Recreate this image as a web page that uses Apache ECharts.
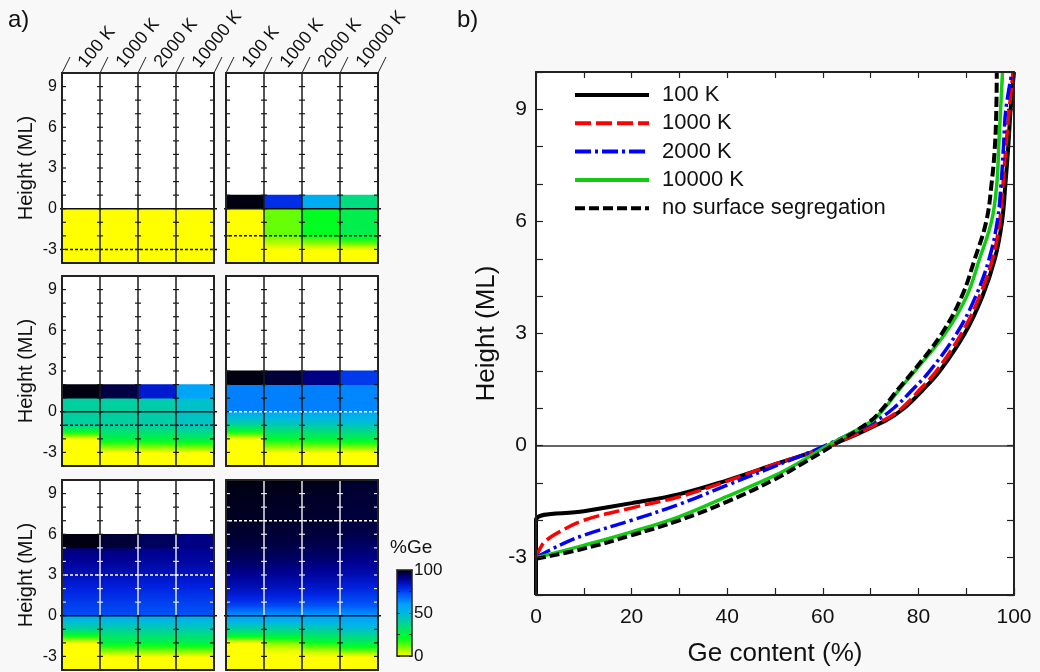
<!DOCTYPE html>
<html>
<head>
<meta charset="utf-8">
<script src="https://cdn.jsdelivr.net/npm/echarts@6/dist/echarts.min.js"></script>
<style>
html, body { margin: 0; background: #f8f8f8; }
#main { width: 1040px; height: 672px; }
</style>
</head>
<body>
<div id="main"></div>
<script>
var FONT = '"Liberation Sans", Arial, sans-serif';
var temps = ['100 K', '1000 K', '2000 K', '10000 K'];

// panel b: [Ge content %, height ML]
var curve100 = [[0,-4],[0,-2],[10,-1.76],[20,-1.54],[30,-1.3],[40,-0.93],[50,-0.5],[61.5,0],[73,0.66],[77,1],[81,1.5],[84.5,2],[89.7,3],[93.4,4],[96,5],[97.5,6],[98.2,7],[98.8,8],[99.3,9],[100,10]];
var curve1000 = [[0,-3],[1,-2.72],[2.1,-2.54],[4.9,-2.31],[10,-2.0],[20,-1.67],[30,-1.37],[40,-0.95],[50,-0.5],[61.5,0],[72.5,0.66],[76.5,1],[80.3,1.5],[83.8,2],[89,3],[92.8,4],[95.5,5],[97,6],[97.7,7],[98.3,8],[99,9],[99.8,10]];
var curve2000 = [[0,-3],[4.9,-2.67],[10,-2.4],[20,-2.0],[30,-1.57],[40,-1.06],[50,-0.55],[60.5,0],[71,0.66],[74.8,1],[78.8,1.5],[82.4,2],[88,3],[92,4],[94.8,5],[96.5,6],[97.3,7],[97.8,8],[98.3,9],[99.6,10]];
var curve10000 = [[0,-3],[10,-2.67],[20,-2.31],[30,-1.9],[40,-1.36],[50,-0.8],[55,-0.46],[61,0],[70.3,0.66],[72.9,1],[76,1.5],[79.3,2],[85.6,3],[90.1,4],[92.8,5],[95.3,6],[96.4,7],[96.8,8],[97.2,9],[97.6,10]];
var curveNoSeg = [[0,-3.03],[10,-2.76],[20,-2.4],[30,-2.0],[40,-1.5],[50,-0.9],[55.5,-0.5],[62,0],[70,0.66],[72.6,1],[75.7,1.5],[79,2],[84.9,3],[89.1,4],[91.8,5],[94.2,6],[95.3,7],[96,8],[96.3,9],[96.4,10]];

// panel a: deposited ML per sub-plot and [height, %Ge] profile per column
var deposited = [0, 1, 2, 3, 6, 10];
var prof0 = [
  [[-4,0],[0,0]], [[-4,0],[0,0]], [[-4,0],[0,0]], [[-4,0],[0,0]]
];
var prof1 = [
  [[-4,0],[0,0],[0,100],[1,100]],
  [[-4,0],[-3,0],[-2,12],[0,12],[0,78],[1,78]],
  [[-4,0],[-3,0],[-2,20],[0,20],[0,55],[1,55]],
  [[-4,0],[-3,0],[-2,27],[0,27],[0,35],[1,35]]
];
var prof2 = [
  [[-4,0],[-2,0],[-1,40],[1,40],[1,100],[2,100]],
  [[-4,0],[-3,0],[-2,25],[-1,40],[1,40],[1,96],[2,96]],
  [[-4,0],[-3,0],[-2,25],[-1,41],[1,42],[1,82],[2,82]],
  [[-4,0],[-3,0],[-2,28],[-1,45],[1,47],[1,58],[2,58]]
];
var prof3 = [
  [[-4,0],[-2,0],[-1,38],[0,58],[0,65],[2,65],[2,100],[3,100]],
  [[-4,0],[-3,0],[-2,22],[-1,42],[0,58],[0,65],[2,65],[2,97],[3,97]],
  [[-4,0],[-3,0],[-2,24],[-1,43],[0,58],[0,65],[2,65],[2,91],[3,91]],
  [[-4,0],[-3,0],[-2,26],[-1,45],[0,58],[0,64],[2,64],[2,76],[3,76]]
];
var prof6 = [
  [[-4,0],[-2,0],[-1,38],[0,56],[0,73],[1,76],[2,80],[3,85],[4,89],[5,92],[5,100],[6,100]],
  [[-4,0],[-3,0],[-2,24],[-1,40],[0,56],[0,73],[1,76],[2,80],[3,85],[4,89],[5,92],[5,97],[6,97]],
  [[-4,0],[-3,0],[-2,25],[-1,41],[0,56],[0,72],[1,75],[2,79],[3,84],[4,88],[5,91],[5,94],[6,94]],
  [[-4,0],[-3,0],[-2,26],[-1,42],[0,56],[0,72],[1,75],[2,79],[3,84],[4,88],[5,90],[5,91],[6,91]]
];
// 10 ML: same profiles as panel b
var prof10 = [curve100, curve1000, curve2000, curve10000].map(function (c) {
  return c.map(function (p) { return [p[1], p[0]]; });
});
var profiles = [prof0, prof1, prof2, prof3, prof6, prof10];

var cmColors = ['#ffff00','#80ff00','#00ff20','#00e860','#00d0a0','#00b8e0','#00a0ff','#0060ff','#0020e0','#000090','#000010'];

// sub-plot looks
var zeroLine = [true, true, true, false, true, true];
var dashColor = ['#111', '#111', '#111', '#fff', '#fff', '#fff'];
var paleLines = [false, false, false, false, true, true];
var gridLeft = [62, 226, 62, 226, 62, 226];
var gridTop = [73, 73, 276, 276, 480, 480];

function hex(c) {
  return [parseInt(c.substr(1,2),16), parseInt(c.substr(3,2),16), parseInt(c.substr(5,2),16)];
}
function geColor(v) {
  v = Math.max(0, Math.min(100, v));
  var t = v / 100 * (cmColors.length - 1);
  var i = Math.min(Math.floor(t), cmColors.length - 2), f = t - i;
  var a = hex(cmColors[i]), b = hex(cmColors[i + 1]);
  return 'rgb(' + Math.round(a[0] + (b[0]-a[0])*f) + ',' + Math.round(a[1] + (b[1]-a[1])*f) + ',' + Math.round(a[2] + (b[2]-a[2])*f) + ')';
}

function makeRender(k) {
  var profs = profiles[k], d = deposited[k], pale = paleLines[k], header = k < 2;
  return function (params, api) {
    var col = params.dataIndex;
    var xL = api.coord([col, 0])[0], xR = api.coord([col + 1, 0])[0];
    function y(h) { return api.coord([0, h])[1]; }
    var ch = [];
    var p = profs[col];
    if (p[0][0] > -4) p = [[-4, p[0][1]]].concat(p);
    for (var i = 0; i + 1 < p.length; i++) {
      var h0 = p[i][0], h1 = p[i+1][0], v0 = p[i][1], v1 = p[i+1][1];
      if (h1 <= h0) continue;
      var fill;
      if (v0 === v1) fill = geColor(v0);
      else {
        var stops = [];
        for (var s = 0; s <= 8; s++) stops.push({ offset: s / 8, color: geColor(v0 + (v1 - v0) * s / 8) });
        fill = new echarts.graphic.LinearGradient(0, 1, 0, 0, stops);
      }
      ch.push({ type: 'rect', shape: { x: xL, y: y(h1) - 0.4, width: xR - xL, height: y(h0) - y(h1) + 0.8 }, style: { fill: fill } });
    }
    var dark = '#1a1a1a', light = '#e6e6e6';
    function lc(h) { return (pale && h > 0 && h < d) ? light : dark; }
    function seg(x1, y1, x2, y2, color, w, dash) {
      ch.push({ type: 'line', shape: { x1: x1, y1: y1, x2: x2, y2: y2 }, style: { stroke: color, lineWidth: w || 1.5, lineDash: dash || null } });
    }
    var h;
    if (col > 0) {
      if (pale) {
        seg(xL, y(-4), xL, y(0), dark);
        seg(xL, y(0), xL, y(d), light);
        if (d < 10) seg(xL, y(d), xL, y(10), dark);
      } else {
        seg(xL, y(-4), xL, y(10), dark);
      }
      for (h = -3; h <= 9; h++) seg(xL - 3, y(h), xL + 3, y(h), lc(h), 1.2);
    } else {
      for (h = -3; h <= 9; h++) seg(xL, y(h), xL + 4, y(h), lc(h), 1.2);
    }
    if (col === 3) {
      for (h = -3; h <= 9; h++) seg(xR - 4, y(h), xR, y(h), lc(h), 1.2);
      var xa = api.coord([0, 0])[0] - 2, xb = xR + 3;
      if (zeroLine[k]) seg(xa, y(0), xb, y(0), '#111', 1.5);
      seg(xa, y(d - 3), xb, y(d - 3), dashColor[k], 1.5, [3, 2]);
    }
    if (header) {
      var yt = y(10);
      seg(xL, yt, xL + 8, yt - 16, '#222', 1);
      if (col === 3) seg(xR, yt, xR + 8, yt - 16, '#222', 1);
      ch.push({ type: 'text', x: xL + 27, y: yt - 2, rotation: 51 * Math.PI / 180,
        style: { text: temps[col], font: '18px ' + FONT, fill: '#111', align: 'left', verticalAlign: 'bottom' } });
    }
    return { type: 'group', children: ch };
  };
}

var grids = [], xAxes = [], yAxes = [], series = [];
var border = { show: true, onZero: false, lineStyle: { color: '#222', width: 2 } };
var thinBorder = { show: true, onZero: false, lineStyle: { color: '#222', width: 1.5 } };
var labelCol = '#111';

for (var k = 0; k < 6; k++) {
  grids.push({ left: gridLeft[k], top: gridTop[k], width: 152, height: 190, show: true, backgroundColor: '#fff', borderWidth: 0 });
  [ 'bottom', 'top' ].forEach(function (pos) {
    xAxes.push({ gridIndex: k, type: 'value', position: pos, min: 0, max: 4, z: 10,
      axisLine: border, axisTick: { show: false }, axisLabel: { show: false }, splitLine: { show: false } });
  });
  var leftCol = (k % 2 === 0);
  yAxes.push({ gridIndex: k, type: 'value', position: 'left', min: -4, max: 10, interval: 1, z: 10,
    axisLine: border, axisTick: { show: false }, splitLine: { show: false },
    axisLabel: { show: leftCol, fontSize: 16, color: labelCol, fontFamily: FONT, margin: 5,
      formatter: function (v) { return v % 3 === 0 ? String(v) : ''; } },
    name: leftCol ? 'Height (ML)' : '', nameLocation: 'middle', nameGap: 26,
    nameTextStyle: { fontSize: 20, color: labelCol, fontFamily: FONT } });
  yAxes.push({ gridIndex: k, type: 'value', position: 'right', min: -4, max: 10, interval: 1, z: 10,
    axisLine: border, axisTick: { show: false }, axisLabel: { show: false }, splitLine: { show: false } });
  series.push({ type: 'custom', xAxisIndex: 2 * k, yAxisIndex: 2 * k, clip: false, silent: true,
    data: [[0.5, 0], [1.5, 0], [2.5, 0], [3.5, 0]], renderItem: makeRender(k) });
}

// colour bar (grid 6)
grids.push({ left: 397, top: 570, width: 15, height: 86 });
xAxes.push({ gridIndex: 6, type: 'value', min: 0, max: 1, z: 10, axisLine: thinBorder, axisTick: { show: false }, axisLabel: { show: false }, splitLine: { show: false } });
xAxes.push({ gridIndex: 6, type: 'value', position: 'top', min: 0, max: 1, z: 10, axisLine: thinBorder, axisTick: { show: false }, axisLabel: { show: false }, splitLine: { show: false } });
yAxes.push({ gridIndex: 6, type: 'value', position: 'left', min: 0, max: 100, interval: 25, z: 10,
  axisLine: thinBorder, axisTick: { inside: true, length: 3, lineStyle: { color: '#222' } },
  axisLabel: { show: false }, splitLine: { show: false } });
yAxes.push({ gridIndex: 6, type: 'value', position: 'right', min: 0, max: 100, interval: 25, z: 10,
  axisLine: thinBorder, axisTick: { inside: true, length: 3, lineStyle: { color: '#222' } },
  axisLabel: { fontSize: 17, color: labelCol, fontFamily: FONT, margin: 2, formatter: function (v) { return v % 50 === 0 ? String(v) : ''; } },
  splitLine: { show: false } });
series.push({ type: 'custom', xAxisIndex: 12, yAxisIndex: 12, silent: true, data: [[0.5, 50]],
  renderItem: function (params, api) {
    var a = api.coord([0, 100]), b = api.coord([1, 0]);
    var stops = cmColors.map(function (c, i) { return { offset: i / (cmColors.length - 1), color: c }; });
    return { type: 'rect', shape: { x: a[0], y: a[1], width: b[0] - a[0], height: b[1] - a[1] },
      style: { fill: new echarts.graphic.LinearGradient(0, 1, 0, 0, stops) } };
  } });

// panel b (grid 7)
grids.push({ left: 536, top: 72, width: 478, height: 526, show: true, backgroundColor: '#fff', borderWidth: 0 });
xAxes.push({ gridIndex: 7, type: 'value', min: 0, max: 100, interval: 10, z: 10, axisLine: border,
  axisTick: { inside: true, length: 7, lineStyle: { color: '#222', width: 1.2 } }, splitLine: { show: false },
  axisLabel: { fontSize: 21, color: labelCol, fontFamily: FONT, margin: 12, formatter: function (v) { return v % 20 === 0 ? String(v) : ''; } },
  name: 'Ge content (%)', nameLocation: 'middle', nameGap: 46, nameTextStyle: { fontSize: 26, color: labelCol, fontFamily: FONT } });
xAxes.push({ gridIndex: 7, type: 'value', position: 'top', min: 0, max: 100, interval: 10, z: 10, axisLine: border,
  axisTick: { inside: true, length: 6, lineStyle: { color: '#222', width: 1.2 } }, axisLabel: { show: false }, splitLine: { show: false } });
yAxes.push({ gridIndex: 7, type: 'value', min: -4, max: 10, interval: 1, z: 10, axisLine: border,
  axisTick: { inside: true, length: 7, lineStyle: { color: '#222', width: 1.2 } }, splitLine: { show: false },
  axisLabel: { fontSize: 21, color: labelCol, fontFamily: FONT, margin: 9, formatter: function (v) { return v % 3 === 0 ? String(v) : ''; } },
  name: 'Height (ML)', nameLocation: 'middle', nameGap: 36, nameTextStyle: { fontSize: 26, color: labelCol, fontFamily: FONT } });
yAxes.push({ gridIndex: 7, type: 'value', position: 'right', min: -4, max: 10, interval: 1, z: 10, axisLine: border,
  axisTick: { inside: true, length: 7, lineStyle: { color: '#222', width: 1.2 } }, axisLabel: { show: false }, splitLine: { show: false } });

function lineSeries(name, data, color, width, dash) {
  return { type: 'line', name: name, xAxisIndex: 14, yAxisIndex: 14, data: data, symbol: 'none', smooth: 0.4,
    lineStyle: { color: color, width: width, type: dash || 'solid' }, itemStyle: { color: color }, z: 3 };
}
var s100 = lineSeries('100 K', curve100, '#000000', 4);
s100.markLine = { silent: true, symbol: 'none', label: { show: false }, z: 1,
  lineStyle: { color: '#333', width: 1.5, type: 'solid' }, data: [{ yAxis: 0 }] };
series.push(s100);
series.push(lineSeries('1000 K', curve1000, '#ff0000', 3.5, [16, 5]));
series.push(lineSeries('2000 K', curve2000, '#0000ff', 3.5, [16, 4, 3, 4]));
series.push(lineSeries('10000 K', curve10000, '#11cc11', 3.5));
series.push(lineSeries('no surface segregation', curveNoSeg, '#000000', 4, [10, 4]));

var chart = echarts.init(document.getElementById('main'));
chart.setOption({
  backgroundColor: '#f8f8f8',
  animation: false,
  grid: grids,
  xAxis: xAxes,
  yAxis: yAxes,
  legend: {
    left: 568, top: 79, orient: 'vertical', itemWidth: 74, itemHeight: 14, itemGap: 6.3,
    data: ['100 K', '1000 K', '2000 K', '10000 K', 'no surface segregation'],
    itemStyle: { opacity: 0 },
    lineStyle: { width: 4 },
    textStyle: { fontSize: 22, color: labelCol, fontFamily: FONT, lineHeight: 22, padding: [0, 0, 0, 8] }
  },
  graphic: [
    { type: 'text', left: 8, top: 8, style: { text: 'a)', font: '24px ' + FONT, fill: '#111' } },
    { type: 'text', left: 457, top: 8, style: { text: 'b)', font: '24px ' + FONT, fill: '#111' } },
    { type: 'text', left: 390, top: 538, style: { text: '%Ge', font: '19px ' + FONT, fill: '#111' } }
  ],
  series: series
});
</script>
</body>
</html>
